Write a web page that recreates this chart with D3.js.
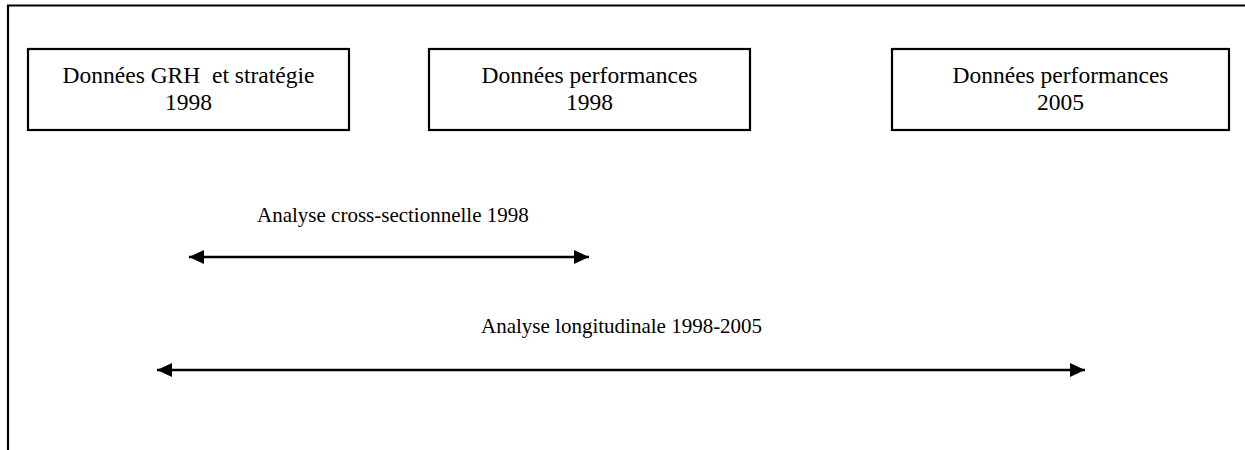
<!DOCTYPE html>
<html>
<head>
<meta charset="utf-8">
<script src="https://cdn.jsdelivr.net/npm/d3@7"></script>
<style>
  body { margin: 0; background: #fff; }
  text { font-family: "Liberation Serif", "Times New Roman", serif; fill: #000; }
</style>
</head>
<body>
<div id="chart"></div>
<script>
const width = 1245;
const height = 450;

// box contents (line 1, line 2)
const boxTitles = ["Données GRH  et stratégie", "Données performances", "Données performances"];
const boxYears = ["1998", "1998", "2005"];

// arrows and their labels
const arrowLabels = ["Analyse cross-sectionnelle 1998", "Analyse longitudinale 1998-2005"];

const svg = d3.select("#chart")
  .append("svg")
  .attr("width", width)
  .attr("height", height);

// layout positions (pixels)
const boxX = [28, 429, 892];
const boxW = [321, 321, 337];
const boxY = 49;
const boxH = 81;

const arrowX1 = [189, 157];
const arrowX2 = [589, 1085];
const arrowY = [257, 370];
const labelX = [257, 481];
const labelY = [222, 333];

// frame: top and left edges only
svg.append("path")
  .attr("d", `M8,${height} V5.5 H${width}`)
  .attr("fill", "none")
  .attr("stroke", "#000")
  .attr("stroke-width", 2.2);

// boxes
const boxes = svg.selectAll(".box")
  .data(boxTitles)
  .join("g")
  .attr("class", "box")
  .attr("transform", (d, i) => `translate(${boxX[i]}, ${boxY})`);

boxes.append("rect")
  .attr("width", (d, i) => boxW[i])
  .attr("height", boxH)
  .attr("fill", "#fff")
  .attr("stroke", "#000")
  .attr("stroke-width", 2.2);

boxes.append("text")
  .attr("x", (d, i) => boxW[i] / 2)
  .attr("y", 34)
  .attr("text-anchor", "middle")
  .attr("font-size", "23.5px")
  .style("white-space", "pre")
  .text(d => d);

boxes.append("text")
  .attr("x", (d, i) => boxW[i] / 2)
  .attr("y", 61)
  .attr("text-anchor", "middle")
  .attr("font-size", "23.5px")
  .text((d, i) => boxYears[i]);

// arrowhead marker
svg.append("defs")
  .append("marker")
  .attr("id", "head")
  .attr("viewBox", "0 0 15 14")
  .attr("refX", 15)
  .attr("refY", 7)
  .attr("markerWidth", 15)
  .attr("markerHeight", 14)
  .attr("markerUnits", "userSpaceOnUse")
  .attr("orient", "auto-start-reverse")
  .append("path")
  .attr("d", "M0,0 L15,7 L0,14 Z")
  .attr("fill", "#000");

const arrows = svg.selectAll(".arrow")
  .data(arrowLabels)
  .join("g")
  .attr("class", "arrow");

arrows.append("line")
  .attr("x1", (d, i) => arrowX1[i])
  .attr("x2", (d, i) => arrowX2[i])
  .attr("y1", (d, i) => arrowY[i])
  .attr("y2", (d, i) => arrowY[i])
  .attr("stroke", "#000")
  .attr("stroke-width", 2.4)
  .attr("marker-start", "url(#head)")
  .attr("marker-end", "url(#head)");

arrows.append("text")
  .attr("x", (d, i) => labelX[i])
  .attr("y", (d, i) => labelY[i])
  .attr("font-size", "21px")
  .text(d => d);
</script>
</body>
</html>
